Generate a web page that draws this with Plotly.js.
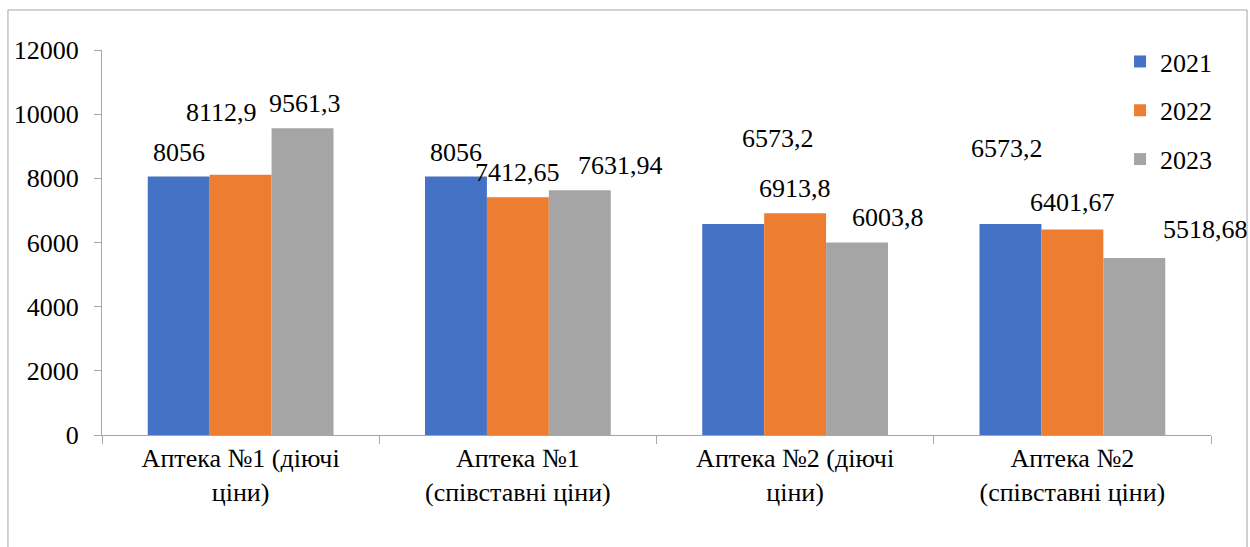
<!DOCTYPE html>
<html>
<head>
<meta charset="utf-8">
<script src="https://cdn.plot.ly/plotly-3.0.1.min.js"></script>
<style>
  #chart svg text { font-family: "Liberation Serif", "Times New Roman", serif !important; }
</style>
</head>
<body style="margin:0">
<div id="chart"></div>
<script>
// ---- data ----
const categories = [
  "Аптека №1 (діючі<br>ціни)",
  "Аптека №1<br>(співставні ціни)",
  "Аптека №2 (діючі<br>ціни)",
  "Аптека №2<br>(співставні ціни)"
];
const seriesNames = ["2021", "2022", "2023"];
const values2021 = [8056, 8056, 6573.2, 6573.2];
const values2022 = [8112.9, 7412.65, 6913.8, 6401.67];
const values2023 = [9561.3, 7631.94, 6003.8, 5518.68];
const colors = ["#4472C4", "#ED7D31", "#A5A5A5"];

// label placement tweaks [series][category]: dx px, dy px above bar top
const labelDx = [
  [0, 0, 44, -4],
  [-19, 0, 0, 0],
  [3, 41, 31, 72]
];
const labelDy = [
  [24, 24, 86, 76],
  [62, 25, 25, 27],
  [25, 25, 25, 28]
];

const FAM = "Liberation Serif";
const allValues = [values2021, values2022, values2023];

const traces = allValues.map((vals, i) => ({
  type: "bar",
  name: seriesNames[i],
  x: categories,
  y: vals,
  legendgroup: "g" + i,
  marker: { color: colors[i], line: { width: 0 } },
  hoverinfo: "skip"
}));

const barPx = 61.6;
const annotations = [];
allValues.forEach((vals, i) => {
  vals.forEach((v, j) => {
    annotations.push({
      x: categories[j], y: v, xref: "x", yref: "y",
      text: String(v).replace(".", ","),
      showarrow: false,
      xanchor: "center", yanchor: "middle",
      xshift: (i - 1) * barPx + labelDx[i][j],
      yshift: labelDy[i][j],
      font: { family: FAM, size: 26, color: "black" }
    });
  });
});

const layout = {
  width: 1250, height: 547,
  margin: { l: 102, r: 39, t: 50, b: 112 },
  font: { family: FAM, size: 26, color: "black" },
  barmode: "group",
  bargap: 0.33,
  bargroupgap: 0,
  showlegend: true,
  legend: {
    x: 0.918, y: 1.031, xanchor: "left", yanchor: "top",
    font: { family: FAM, size: 26, color: "black" },
    bgcolor: "rgba(0,0,0,0)",
    tracegroupgap: 12,
    itemwidth: 30
  },
  xaxis: {
    type: "category",
    range: [-0.5, 3.5],
    autorange: false,
    showline: true, linecolor: "#a6a6a6", linewidth: 1,
    ticks: "outside", ticklen: 8, tickcolor: "#a6a6a6",
    tickson: "boundaries",
    showgrid: false, zeroline: false,
    tickfont: { family: FAM, size: 26, color: "black" }
  },
  yaxis: {
    range: [0, 12000],
    autorange: false,
    dtick: 2000, tick0: 0,
    showline: true, linecolor: "#a6a6a6", linewidth: 1,
    ticks: "outside", ticklen: 7, tickcolor: "#a6a6a6",
    showgrid: false, zeroline: false,
    tickformat: "d",
    ticklabelstandoff: 10,
    tickfont: { family: FAM, size: 26, color: "black" }
  },
  shapes: [{
    type: "rect", xref: "paper", yref: "paper",
    x0: -0.0848, x1: 1.0325, y0: -0.33, y1: 1.1039,
    line: { color: "#a6a6a6", width: 1 }, fillcolor: "rgba(0,0,0,0)", layer: "below"
  }],
  annotations: annotations
};

Plotly.newPlot("chart", traces, layout, { displayModeBar: false });
</script>
</body>
</html>
